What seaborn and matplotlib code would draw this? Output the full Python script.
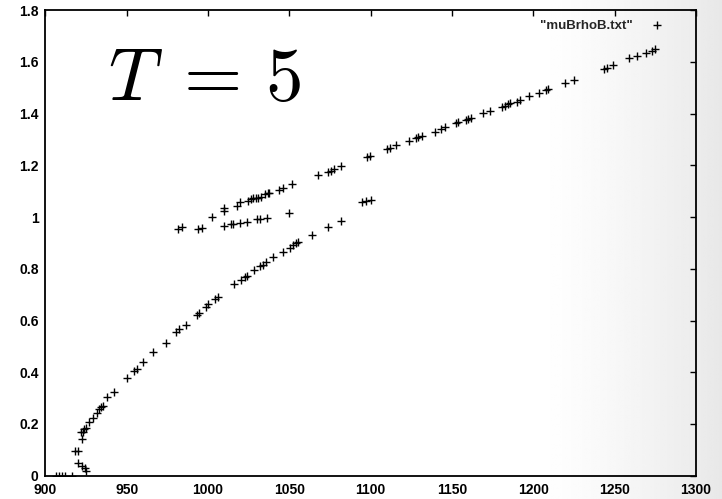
import numpy as np
import pandas as pd
import matplotlib
matplotlib.use("Agg")
import matplotlib.pyplot as plt
import seaborn as sns
from matplotlib import font_manager

# mu_B (x) and rho_B (y) samples, grouped by solution branch
mu_lower = [906.5, 908.5, 910.2, 912.0, 916.0,
            924.9, 924.3, 922.6, 920.2, 918.1, 920.2, 922.3, 921.6, 923.2, 923.7,
            924.7, 926.9, 929.4, 931.5, 932.9, 934.1, 935.2, 938.0, 942.3, 949.9,
            954.6, 956.1, 960.1, 966.3, 973.9, 980.1, 982.1, 986.2, 993.0, 994.4,
            998.5, 1000.1, 1004.2, 1006.3, 1016.1, 1020.1, 1022.7, 1024.1, 1028.0,
            1032.0, 1034.0, 1035.8, 1040.1, 1045.9, 1050.4, 1052.4, 1053.9, 1055.5,
            1063.7, 1073.9, 1081.7, 1094.5, 1097.0, 1100.0]
rho_lower = [0.0, 0.0, 0.0, 0.0, 0.0,
             0.019, 0.029, 0.037, 0.050, 0.095, 0.095, 0.142, 0.170, 0.168, 0.180,
             0.186, 0.209, 0.224, 0.241, 0.257, 0.264, 0.271, 0.305, 0.322, 0.379,
             0.406, 0.412, 0.441, 0.477, 0.514, 0.557, 0.566, 0.583, 0.621, 0.628,
             0.653, 0.663, 0.682, 0.692, 0.741, 0.757, 0.767, 0.773, 0.795,
             0.811, 0.816, 0.825, 0.844, 0.866, 0.879, 0.892, 0.898, 0.905,
             0.930, 0.962, 0.986, 1.059, 1.062, 1.066]

mu_middle = [1009.8, 1013.9, 1015.5, 1019.6, 1024.1, 1030.3, 1031.9, 1036.0, 1049.8]
rho_middle = [0.966, 0.973, 0.973, 0.978, 0.982, 0.991, 0.991, 0.995, 1.014]

mu_upper = [981.7, 983.8, 994.0, 996.1, 1002.2, 1009.8, 1009.8, 1017.6, 1019.6,
            1024.7, 1026.2, 1027.8, 1029.5, 1030.9, 1032.4, 1035.0, 1036.7, 1037.6,
            1043.8, 1045.9, 1051.8, 1067.8, 1073.9, 1075.4, 1077.4, 1081.7, 1097.5,
            1099.6, 1110.2, 1111.8, 1115.6, 1123.7, 1127.9, 1129.3, 1131.4, 1139.6,
            1143.2, 1145.7, 1152.2, 1153.6, 1158.4, 1159.8, 1161.5, 1169.1, 1173.4,
            1180.5, 1182.6, 1184.6, 1185.7, 1190.2, 1191.8, 1197.6, 1203.5, 1207.8,
            1209.2, 1219.5, 1225.1, 1243.5, 1245.1, 1249.2, 1259.0, 1263.6, 1269.3,
            1272.8, 1274.8]
rho_upper = [0.952, 0.960, 0.954, 0.956, 0.999, 1.023, 1.034, 1.043, 1.057,
             1.063, 1.068, 1.072, 1.072, 1.075, 1.078, 1.089, 1.094, 1.094,
             1.104, 1.113, 1.128, 1.162, 1.175, 1.179, 1.186, 1.197, 1.234,
             1.237, 1.262, 1.268, 1.278, 1.294, 1.304, 1.308, 1.314, 1.330,
             1.340, 1.347, 1.362, 1.366, 1.375, 1.379, 1.382, 1.401, 1.410,
             1.424, 1.429, 1.436, 1.440, 1.446, 1.452, 1.468, 1.480, 1.491,
             1.495, 1.518, 1.530, 1.572, 1.577, 1.588, 1.613, 1.622, 1.635,
             1.643, 1.649]

x_ticks = [900, 950, 1000, 1050, 1100, 1150, 1200, 1250, 1300]
x_labels = ["900", "950", "1000", "1050", "1100", "1150", "1200", "1250", "1300"]
y_ticks = [0, 0.2, 0.4, 0.6, 0.8, 1.0, 1.2, 1.4, 1.6, 1.8]
y_labels = ["0", "0.2", "0.4", "0.6", "0.8", "1", "1.2", "1.4", "1.6", "1.8"]
series_label = '"muBrhoB.txt"'

df = pd.DataFrame({
    "mu": mu_lower + mu_middle + mu_upper,
    "rho": rho_lower + rho_middle + rho_upper,
})

sns.set_style("white")
plt.rcParams["font.family"] = ["Liberation Sans", "DejaVu Sans"]
plt.rcParams["mathtext.fontset"] = "cm"

# narrow bold face for tick labels and key, if available
installed = {f.name for f in font_manager.fontManager.ttflist}
label_family = "Liberation Sans Narrow" if "Liberation Sans Narrow" in installed else "Liberation Sans"
label_size = 11 if label_family == "Liberation Sans Narrow" else 10

fig = plt.figure(figsize=(7.22, 4.99), dpi=100, facecolor="white")

# soft grey shading towards the right edge of the page
bg = fig.add_axes([0, 0, 1, 1], zorder=-5)
xs = np.linspace(0, 1, 400)
shade = np.where(xs < 0.74, 1.0, 1.0 - 0.09 * ((xs - 0.74) / 0.26) ** 1.3)
bg.imshow(np.tile(shade, (50, 1)), cmap="gray", vmin=0, vmax=1,
          aspect="auto", extent=[0, 1, 0, 1])
bg.axis("off")

ax = fig.add_axes([0.063, 0.0467, 0.901, 0.933])
ax.set_facecolor("none")

sns.scatterplot(data=df, x="mu", y="rho", marker="+", color="black",
                s=32, linewidth=1.0, ax=ax, label=series_label, legend=False)

ax.set_xlim(900, 1300)
ax.set_ylim(0, 1.8)
ax.set_xticks(x_ticks)
ax.set_xticklabels(x_labels)
ax.set_yticks(y_ticks)
ax.set_yticklabels(y_labels)
ax.set_xlabel("")
ax.set_ylabel("")
for lab in ax.get_xticklabels() + ax.get_yticklabels():
    lab.set_family(label_family)
    lab.set_fontweight("bold")
    lab.set_fontsize(label_size)
ax.tick_params(direction="in", length=4, width=1.0, top=True, right=True,
               labelcolor="black", color="black", pad=5)
ax.tick_params(axis="x", pad=5)
for sp in ax.spines.values():
    sp.set_visible(True)
    sp.set_color("black")
    sp.set_linewidth(1.3)

# key in the upper right corner: label followed by the marker
ax.legend(loc="upper right", bbox_to_anchor=(0.971, 1.005), frameon=False,
          markerfirst=False, handletextpad=1.28, handlelength=1.2,
          prop={"family": label_family, "weight": "bold", "size": label_size - 0.5})

ax.text(0.245, 0.848, r"$T\;=\,5$", transform=ax.transAxes, fontsize=54,
        ha="center", va="center", color="black")

fig.savefig("out.png", dpi=100, facecolor="white")
